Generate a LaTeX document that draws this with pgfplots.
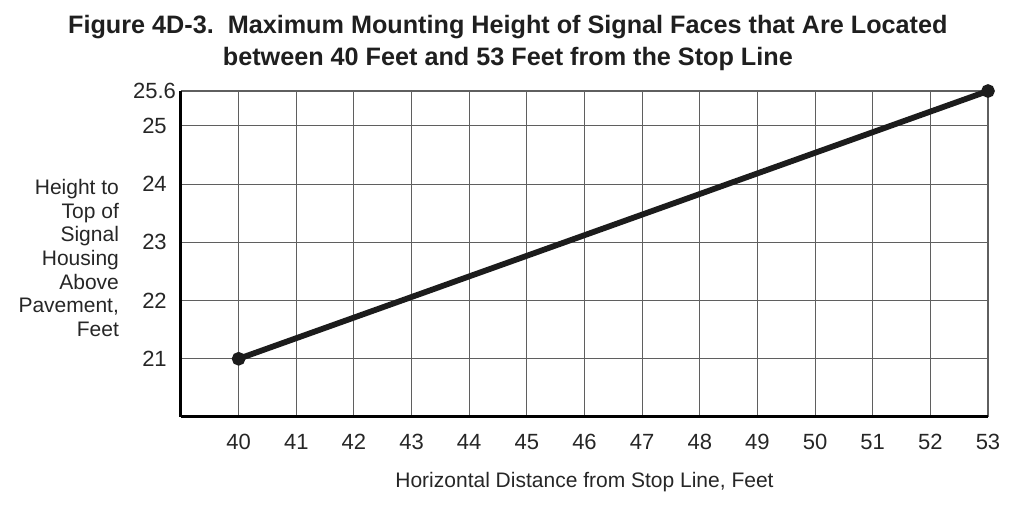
\documentclass[border=0pt]{standalone}
\usepackage{pgfplots}
\pgfplotsset{compat=1.18}
\usepackage{fontspec}
\setmainfont{Liberation Sans}
\definecolor{gridgray}{RGB}{95,95,95}
\definecolor{inkline}{RGB}{28,28,28}
\begin{document}
\begin{tikzpicture}
\path[use as bounding box] (-90.5pt,-48.5pt) rectangle (422pt,208.5pt);
\begin{axis}[
  scale only axis,
  width=403.5pt, height=163pt,
  xmin=39, xmax=53, ymin=20, ymax=25.6,
  axis x line*=bottom, axis y line*=left,
  axis line style={line width=1.5pt, black, -},
  xtick={40,41,...,53},
  ytick={21,22,23,24,25,25.6},
  yticklabels={21,22,23,24,25,25.6},
  major tick length=0pt,
  grid=major,
  major grid style={gridgray, line width=0.55pt},
  /pgf/number format/assume math mode=true,
  ticklabel style={font=\fontsize{11}{13}\selectfont, text=black!85},
  yticklabel style={anchor=center, xshift=-13.25pt},
  xticklabel style={anchor=center, yshift=-12.3pt},
  title={Figure 4D-3.\ \ Maximum Mounting Height of Signal Faces that Are Located\\between 40 Feet and 53 Feet from the Stop Line},
  title style={at={(axis description cs:0.405,1)}, anchor=center, yshift=18pt,
    align=center, font=\bfseries\fontsize{12.6}{16}\selectfont, text=black!88},
  xlabel={Horizontal Distance from Stop Line, Feet},
  every axis x label/.style={at={(axis description cs:0.5,0)}, anchor=center, yshift=-32.5pt,
    font=\fontsize{10.5}{12.5}\selectfont, text=black!85},
  ylabel={Height to\\Top of\\Signal\\Housing\\Above\\Pavement,\\Feet},
  every axis y label/.style={at={(axis description cs:0,0.488)}, anchor=east, xshift=-27.5pt,
    align=right, font=\fontsize{10.5}{11.8}\selectfont, text=black!85},
  clip=false,
]
\addplot[inkline, line width=2.9pt, line cap=round, mark=*, mark size=1.9pt,
  mark options={inkline}] coordinates {(40,21) (53,25.6)};
\end{axis}
\end{tikzpicture}
\end{document}
